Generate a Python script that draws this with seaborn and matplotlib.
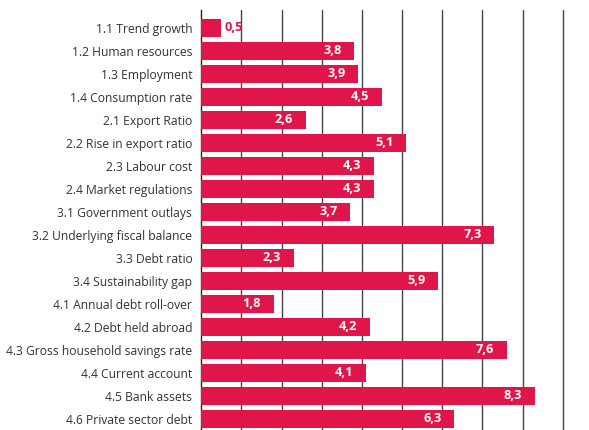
import matplotlib
matplotlib.use("Agg")
import matplotlib.pyplot as plt
import seaborn as sns
import pandas as pd

categories = [
    "1.1 Trend growth", "1.2 Human resources", "1.3 Employment",
    "1.4 Consumption rate", "2.1 Export Ratio", "2.2 Rise in export ratio",
    "2.3 Labour cost", "2.4 Market regulations", "3.1 Government outlays",
    "3.2 Underlying fiscal balance", "3.3 Debt ratio", "3.4 Sustainability gap",
    "4.1 Annual debt roll-over", "4.2 Debt held abroad",
    "4.3 Gross household savings rate", "4.4 Current account",
    "4.5 Bank assets", "4.6 Private sector debt",
]
values = [0.5, 3.8, 3.9, 4.5, 2.6, 5.1, 4.3, 4.3, 3.7, 7.3, 2.3, 5.9,
          1.8, 4.2, 7.6, 4.1, 8.3, 6.3]

BAR = "#E0164A"

sns.set_theme(style="white")
plt.rcParams["font.family"] = ["Open Sans", "DejaVu Sans"]

df = pd.DataFrame({"category": categories, "value": values})

fig = plt.figure(figsize=(5.89, 4.30), dpi=100)
ax = fig.add_axes([0.3418, 0.0, 0.6136, 0.9767])

sns.barplot(data=df, x="value", y="category", color=BAR, saturation=1,
            width=0.77, linewidth=0, ax=ax, zorder=3)

ax.set_xlim(0, 9)
ax.set_ylim(len(categories) - 0.52, -0.77)
ax.set_xticks(range(0, 10))
for gx in range(1, 10):
    ax.axvline(gx, color="#444444", linewidth=1.0, zorder=0, clip_on=False)
ax.tick_params(axis="x", bottom=False, labelbottom=False)
ax.tick_params(axis="y", left=False, length=0, pad=6.5, labelsize=8.7,
               labelcolor="#333333")
ax.set_xlabel("")
ax.set_ylabel("")
for side in ["top", "right", "bottom"]:
    ax.spines[side].set_visible(False)
ax.spines["left"].set_color("#222222")
ax.spines["left"].set_linewidth(1.0)

for i, v in enumerate(values):
    txt = f"{v:.1f}".replace(".", ",")
    if v < 1:
        ax.annotate(txt, (v, i), xytext=(2, 0), textcoords="offset points",
                    ha="left", va="center", color=BAR, fontsize=9.2,
                    fontweight="bold", zorder=5)
    else:
        ax.annotate(txt, (v, i), xytext=(-9, 0), textcoords="offset points",
                    ha="right", va="center", color="white", fontsize=9.2,
                    fontweight="bold", zorder=5)

fig.savefig("out.png", dpi=100)
